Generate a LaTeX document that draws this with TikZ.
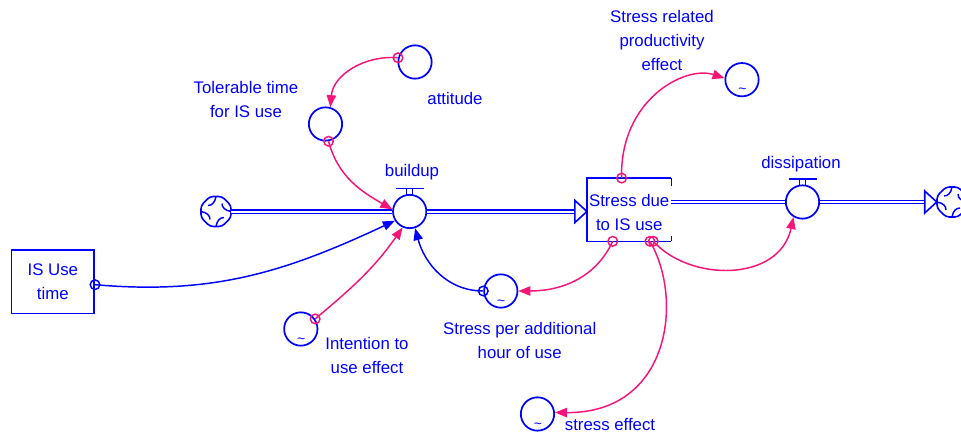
\documentclass[tikz,border=0pt]{standalone}
\usepackage{fontspec}
\setmainfont{Liberation Sans}
\usetikzlibrary{arrows.meta,calc}
\definecolor{vblue}{RGB}{0,0,255}
\definecolor{vpink}{RGB}{245,20,120}
\begin{document}
\begin{tikzpicture}[x=0.75pt,y=-0.75pt,
  lbl/.style={text=vblue, font=\fontsize{12.6}{18}\selectfont, align=center, inner sep=0pt},
  tld/.style={text=vblue, font=\fontsize{10.5}{10.5}\selectfont, inner sep=0pt},
  aux/.style={circle, draw=vblue, line width=1.3pt, minimum size=25pt, inner sep=0pt, fill=white},
  conn/.style={line width=1.1pt, -{Triangle[length=9pt,width=7pt]}},
  bconn/.style={conn, draw=vblue},
  pconn/.style={conn, draw=vpink},
  bmark/.style={draw=vblue, line width=1.1pt},
  pmark/.style={draw=vpink, line width=1.1pt},
  pipe/.style={draw=vblue, line width=1pt, double=white, double distance=1.5pt},
  flowhead/.style={draw=vblue, line width=1.2pt, fill=white},
  cloudnode/.style={inner sep=0pt, minimum size=22.5pt},
  vcloud/.pic={
    \draw[vblue, line width=1.2pt, fill=white, rounded corners=2.5pt]
      (-15,-6) -- (-6,-15) -- (6,-15) -- (15,-6) -- (15,6) -- (6,15) -- (-6,15) -- (-15,6) -- cycle;
    \foreach \a in {0,90,180,270} {
      \draw[vblue, line width=1.1pt, rotate=\a] (0,-15) .. controls (-1,-9) and (-4,-6) .. (-8,-6);
    }
  },
  valvetop/.pic={
    \draw[vblue, line width=1.2pt] (-14,-23) -- (14,-23);
    \draw[vblue, line width=1pt] (-3,-23) -- (-3,-17) (3,-23) -- (3,-17);
  }
]
\useasboundingbox (0,0) rectangle (961,435);

% stocks, clouds, valves, auxiliaries
\node[cloudnode] (cl) at (216,211.5) {};
\node[cloudnode] (cr) at (952,202) {};
\node[inner sep=0pt, minimum width=63pt, minimum height=47pt] (stk) at (629.2,209.7) {};
\node[aux] (bu) at (409.7,211.5) {};
\node[aux] (dis) at (802.5,202) {};
\node[aux] (att) at (415,62) {};
\node[aux] (tol) at (325.5,124) {};
\node[aux] (int) at (300.8,329) {};
\node[aux] (spa) at (500.8,291) {};
\node[aux] (se) at (537.5,414) {};
\node[aux] (srp) at (742,79.7) {};
\node[draw=vblue, line width=1.3pt, minimum width=62pt, minimum height=47.5pt, lbl] (isu) at (52.8,281.7) {IS Use\\time};

% stock outline
\draw[vblue, line width=1.2pt] (stk.north east) -- ++(0,8);
\draw[vblue, line width=1.2pt] (stk.south east) -- ++(0,-5);
\draw[vblue, line width=1.2pt] (stk.north east) -- (stk.north west) -- (stk.south west) -- (stk.south east);
\node[lbl] (stktxt) at ($(stk)+(0,2.5)$) {Stress due\\to IS use};

% clouds and valve tops
\pic at (cl) {vcloud};
\pic at (cr) {vcloud};
\pic at (bu) {valvetop};
\pic at (dis) {valvetop};

% pipes
\draw[pipe] (cl.east) -- (bu.west);
\coordinate (inbase) at ($(stk.west |- bu)+(-12,0)$);
\draw[pipe] (bu.east) -- (inbase);
\draw[flowhead] ($(inbase)+(0,-11)$) -- (stk.west |- bu) -- ($(inbase)+(0,11)$) -- cycle;
\coordinate (outbase) at ($(cr.west)+(-12,0)$);
\draw[pipe] (stk.east |- dis) -- (dis.west);
\draw[pipe] (dis.east) -- (outbase);
\draw[flowhead] ($(outbase)+(0,-11)$) -- (cr.west) -- ($(outbase)+(0,11)$) -- cycle;

% tilde marks
\node[tld] at ($(int)+(0.5,11.5)$) {\textasciitilde};
\node[tld] at ($(spa)+(0.5,11.5)$) {\textasciitilde};
\node[tld] at ($(se)+(0.5,11.5)$) {\textasciitilde};
\node[tld] at ($(srp)+(0.5,11.5)$) {\textasciitilde};

% labels
\node[lbl] (lbu) at (412,172) {buildup};
\node[lbl] (ldis) at (801,164) {dissipation};
\node[lbl] (latt) at (455,98) {attitude};
\node[lbl] (ltol) at (246,99) {Tolerable time\\for IS use};
\node[lbl] (lint) at (367,355) {Intention to\\use effect};
\node[lbl] (lspa) at (519.7,340) {Stress per additional\\hour of use};
\node[lbl] (lse) at (610,425) {stress effect};
\node[lbl] (lsrp) at (662,40) {Stress related\\productivity\\effect};

% connector start points
\coordinate (s1) at (att.166);
\coordinate (s2) at (tol.-80);
\coordinate (s3) at ($(isu.east)+(0,3)$);
\coordinate (s4) at (int.35);
\coordinate (s5) at (spa.180);
\coordinate (s6) at ($(stk.south west)!0.305!(stk.south east)$);
\coordinate (s7) at ($(stk.south west)!0.745!(stk.south east)$);
\coordinate (s8) at ($(stk.south west)!0.785!(stk.south east)$);
\coordinate (s9) at ($(stk.north west)!0.41!(stk.north east)$);

% connectors
\draw[pconn] (s1) to[out=175,in=85] (tol.74);
\draw[pconn] (s2) to[out=-75,in=150] (bu.173);
\draw[bconn] (s3) to[out=-5,in=205] (bu.212);
\draw[pconn] (s4) to[out=40,in=235] (bu.-114);
\draw[bconn] (s5) to[out=180,in=-75] (bu.-72);
\draw[pconn] (s6) to[out=-115,in=0] (spa.0);
\draw[pconn] (s7) .. controls +(34,58) and +(115,1) .. (se.5);
\draw[pconn] (s8) .. controls +(37,41) and +(-14,65) .. (dis.-121);
\draw[pconn] (s9) .. controls +(-2,-78) and +(-40,-13) .. (srp.175);

% connector start markers
\draw[pmark] (s1) circle (3.6pt);
\draw[pmark] (s2) circle (3.6pt);
\draw[bmark] (s3) circle (3.6pt);
\draw[pmark] (s4) circle (3.6pt);
\draw[bmark] (s5) circle (3.6pt);
\draw[pmark] (s6) circle (3.6pt);
\draw[pmark] (s7) circle (3.6pt);
\draw[pmark] (s8) circle (3.6pt);
\draw[pmark] (s9) circle (3.6pt);
\end{tikzpicture}
\end{document}
